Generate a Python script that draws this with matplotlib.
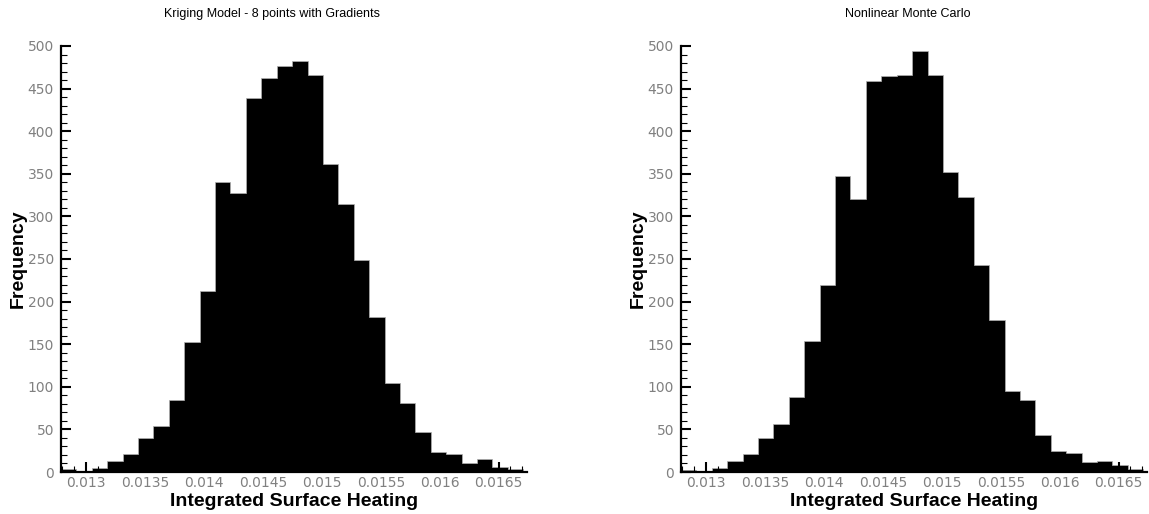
import numpy as np
import matplotlib
matplotlib.use("Agg")
import matplotlib.pyplot as plt
from matplotlib.ticker import MultipleLocator

# ------------------------------------------------------------------
# Histogram data (30 equal-width bins over the sampled range)
# ------------------------------------------------------------------
heat_min = 0.012788
heat_max = 0.016708
n_bins = 30

counts_kriging = [3, 1, 5, 13, 21, 40, 54, 84, 153, 213,
                  340, 328, 439, 463, 477, 482, 466, 362, 314, 249,
                  182, 104, 81, 47, 24, 21, 10, 15, 6, 3]
counts_monte_carlo = [2, 1, 5, 13, 21, 40, 56, 88, 154, 219,
                      347, 321, 459, 465, 466, 494, 466, 352, 323, 243,
                      178, 95, 84, 43, 25, 22, 12, 13, 8, 4]

titles = ["Kriging Model - 8 points with Gradients", "Nonlinear Monte Carlo"]

x_ticks = [0.013, 0.0135, 0.014, 0.0145, 0.015, 0.0155, 0.016, 0.0165]
x_tick_labels = ["0.013", "0.0135", "0.014", "0.0145", "0.015", "0.0155", "0.016", "0.0165"]
y_ticks = [0, 50, 100, 150, 200, 250, 300, 350, 400, 450, 500]

# ------------------------------------------------------------------
# Style
# ------------------------------------------------------------------
plt.rcParams["font.family"] = ["Liberation Sans", "DejaVu Sans"]
tick_color = "#808080"
fs_tick = 10
fs_label = 14
fs_title = 9

edges = np.linspace(heat_min, heat_max, n_bins + 1)

fig = plt.figure(figsize=(11.49, 5.14), dpi=100)

axes_pos = [
    [61 / 1149, 42 / 514, 466 / 1149, 426 / 514],
    [681 / 1149, 42 / 514, 466 / 1149, 426 / 514],
]
title_x = [0.452, 0.486]

for pos, counts, title, tx in zip(axes_pos, [counts_kriging, counts_monte_carlo], titles, title_x):
    ax = fig.add_axes(pos)
    ax.stairs(counts, edges, fill=True, facecolor="black",
              edgecolor="#b0b0b0", linewidth=0.5)

    ax.set_xlim(heat_min, 0.01674)
    ax.set_ylim(0, 500)

    for side in ["top", "right"]:
        ax.spines[side].set_visible(False)
    for side in ["left", "bottom"]:
        ax.spines[side].set_linewidth(1.6)

    ax.set_xticks(x_ticks, labels=x_tick_labels)
    ax.set_yticks(y_ticks)
    ax.xaxis.set_minor_locator(MultipleLocator(0.0001))
    ax.yaxis.set_minor_locator(MultipleLocator(10))
    ax.tick_params(which="major", direction="in", length=7.5, width=1.5,
                   labelsize=fs_tick, labelcolor=tick_color)
    ax.tick_params(which="minor", direction="in", length=4, width=0.8)
    ax.tick_params(axis="y", which="major", pad=5)
    ax.tick_params(axis="x", which="major", pad=3)
    for lbl in ax.get_xticklabels() + ax.get_yticklabels():
        lbl.set_family("DejaVu Sans")

    ax.text(0.5, -0.069, "Integrated Surface Heating", transform=ax.transAxes,
            ha="center", va="center", fontsize=fs_label, fontweight="bold")
    ax.text(-0.092, 0.5, "Frequency", transform=ax.transAxes, rotation=90,
            ha="center", va="center", fontsize=fs_label, fontweight="bold")
    ax.text(tx, 1.075, title, transform=ax.transAxes,
            ha="center", va="center", fontsize=fs_title)

fig.savefig("out.png", dpi=100)
